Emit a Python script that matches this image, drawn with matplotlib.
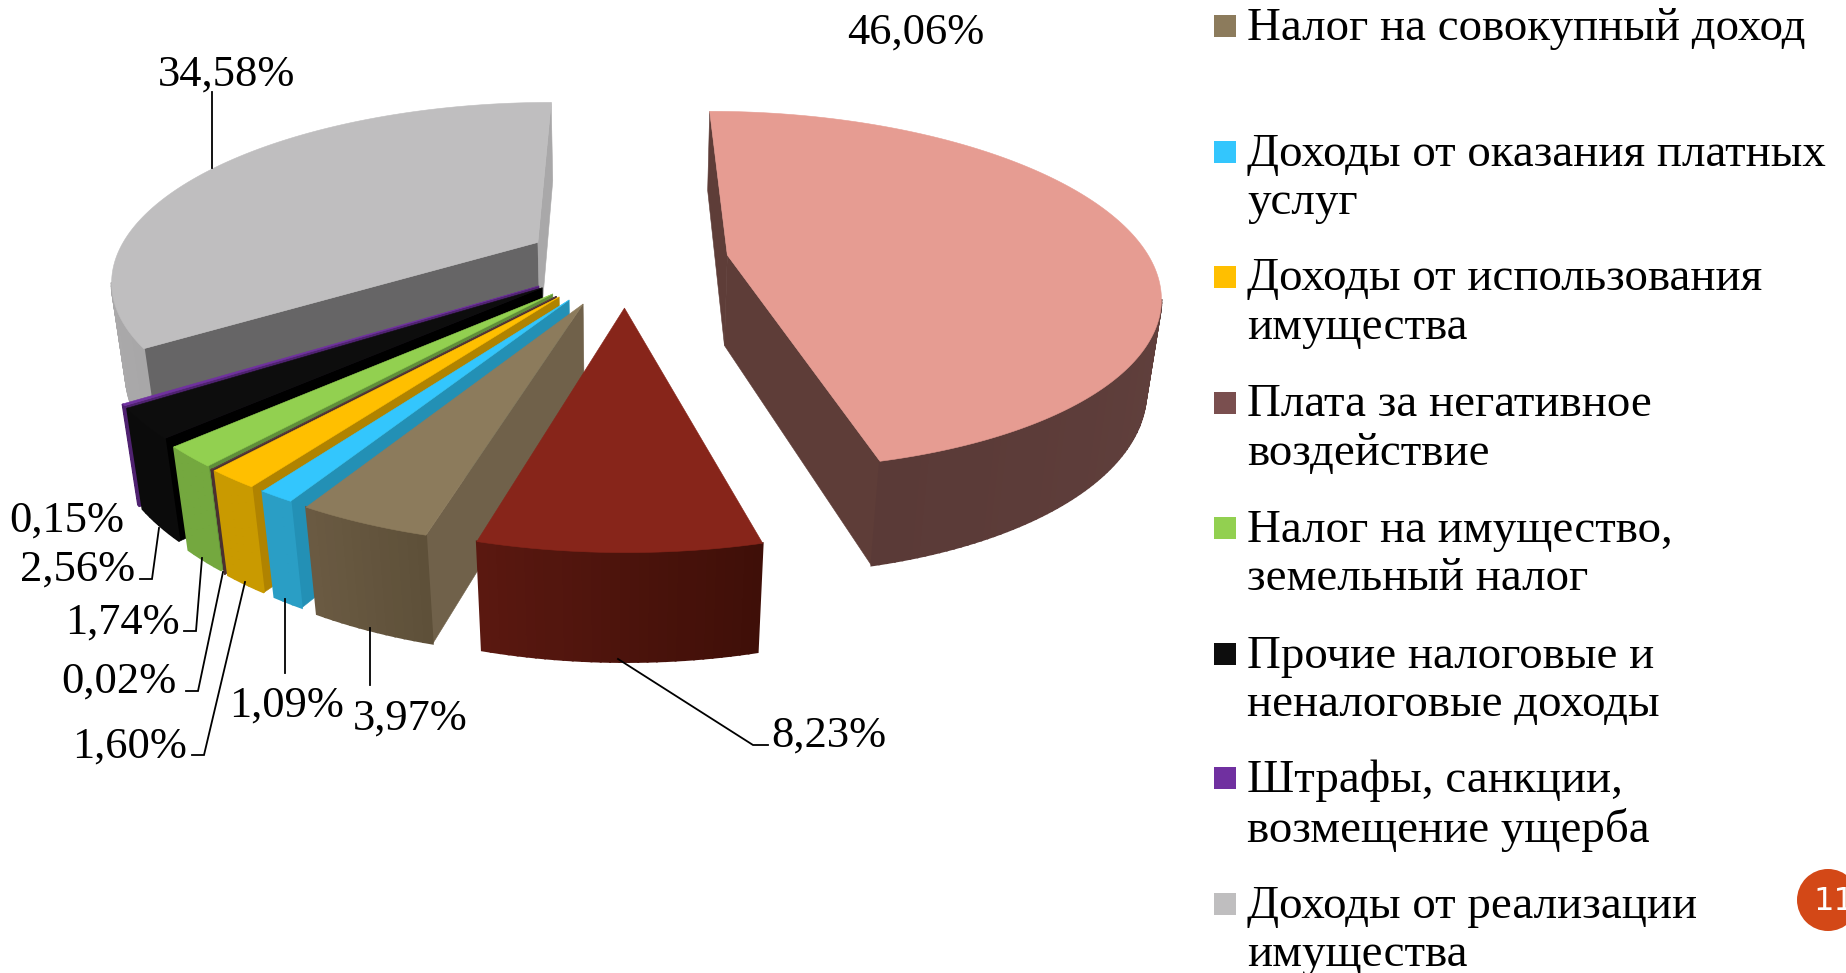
import numpy as np
import matplotlib
matplotlib.use("Agg")
import matplotlib.pyplot as plt
from matplotlib.patches import Polygon, Rectangle, Circle

# ---- data ----
slice_names = ["Налог на доходы", "Прочие доходы", "Налог на совокупный доход",
               "Доходы от оказания платных услуг", "Доходы от использования имущества",
               "Плата за негативное воздействие", "Налог на имущество, земельный налог",
               "Прочие налоговые и неналоговые доходы", "Штрафы, санкции, возмещение ущерба",
               "Доходы от реализации имущества"]
slice_values = [46.06, 8.23, 3.97, 1.09, 1.60, 0.02, 1.74, 2.56, 0.15, 34.58]
slice_labels = ["46,06%", "8,23%", "3,97%", "1,09%", "1,60%", "0,02%", "1,74%", "2,56%", "0,15%", "34,58%"]
legend_labels = ["Налог на совокупный доход", "Доходы от оказания платных\nуслуг",
                 "Доходы от использования\nимущества", "Плата за негативное\nвоздействие",
                 "Налог на имущество,\nземельный налог", "Прочие налоговые и\nненалоговые доходы",
                 "Штрафы, санкции,\nвозмещение ущерба", "Доходы от реализации\nимущества"]

# ---- styles ----
top_colors = ["#E69C92", "#87251A", "#8C7B5C", "#33C6FD", "#FFBF00", "#5B3D3D", "#92D050", "#0D0D0D", "#7030A0", "#BFBEBF"]
cut_colors = ["#5E3D38", "#52160E", "#70614A", "#2390B5", "#B08300", "#4A3030", "#5F8E3A", "#000000", "#4F2270", "#666566"]
end_cut_colors = ["#5E3D38", "#52160E", "#70614A", "#2390B5", "#B08300", "#4A3030", "#5F8E3A", "#000000", "#4F2270", "#A9A8A9"]
wall_a = ["#6C4B47", "#3F0F08", "#5E5039", "#2A9EC5", "#C99A00", "#4A3030", "#74A83F", "#0B0B0B", "#4F2270", "#A8A7A8"]
wall_b = ["#5A3A37", "#5A1810", "#6A5A42", "#2A9EC5", "#C99A00", "#4A3030", "#74A83F", "#0B0B0B", "#4F2270", "#B5B4B5"]
legend_colors = ["#8C7B5C", "#33C6FD", "#FFBF00", "#7A4F4F", "#92D050", "#0D0D0D", "#7030A0", "#BFBEBF"]

# per-slice explosion offsets in the pie plane (X right, Y away from viewer)
offsets = [(.255, .085), (.01, -.205), (-.083, -.184), (-.115, -.163), (-.138, -.147),
           (-.144, -.143), (-.153, -.131), (-.178, -.098), (-.186, -.088), (-.198, .16)]
draw_order = [9, 0, 8, 7, 6, 5, 4, 3, 2, 1]

# perspective projection
CX, CY, SX, SY, A, DW, H = 620, 270, 428, 178, 0.2, 0.028, 94


def project(X, Y, bottom=False):
    X, Y = np.asarray(X, float), np.asarray(Y, float)
    w = 1 + A * Y
    if bottom:
        w = w + DW
        return CX + SX * X / w, CY - SY * Y / w + H / w
    return CX + SX * X / w, CY - SY * Y / w


def lerp(c1, c2, t):
    a = np.array(matplotlib.colors.to_rgb(c1))
    b = np.array(matplotlib.colors.to_rgb(c2))
    return tuple(a + (b - a) * t)


fig = plt.figure(figsize=(18.46, 9.73), dpi=100, facecolor="white")
ax = fig.add_axes([0, 0, 1, 1])
ax.set_xlim(0, 1846)
ax.set_ylim(973, 0)
ax.axis("off")

edges = np.concatenate([[0], np.cumsum(slice_values)]) / sum(slice_values) * 2 * np.pi
CAM = np.array([0.0, -1 / A])


def quad(xa, ya, xb, yb, color, z, lw=0.4):
    """Vertical wall between plane points a and b."""
    ut1, vt1 = project(xa, ya)
    ut2, vt2 = project(xb, yb)
    ub2, vb2 = project(xb, yb, True)
    ub1, vb1 = project(xa, ya, True)
    ax.add_patch(Polygon([(ut1, vt1), (ut2, vt2), (ub2, vb2), (ub1, vb1)], closed=True,
                         facecolor=color, edgecolor=color, lw=lw, zorder=z))


for rank, i in enumerate(draw_order):
    t1, t2 = edges[i], edges[i + 1]
    ox, oy = offsets[i]
    z = 2 + rank
    ts = np.linspace(t1, t2, max(3, int((t2 - t1) * 60)))
    xs, ys = ox + np.sin(ts), oy + np.cos(ts)
    apex = np.array([ox, oy])
    to_cam = CAM - apex
    # cut faces
    if np.dot([-np.cos(t1), np.sin(t1)], to_cam) > 0:
        quad(ox, oy, xs[0], ys[0], cut_colors[i], z)
    if np.dot([np.cos(t2), -np.sin(t2)], to_cam) > 0:
        quad(ox, oy, xs[-1], ys[-1], end_cut_colors[i], z)
    # outer wall, in shaded strips
    for k in range(len(ts) - 1):
        tm = (ts[k] + ts[k + 1]) / 2
        pm = np.array([ox + np.sin(tm), oy + np.cos(tm)])
        if np.dot([np.sin(tm), np.cos(tm)], CAM - pm) > 0:
            quad(xs[k], ys[k], xs[k + 1], ys[k + 1],
                 lerp(wall_a[i], wall_b[i], k / max(1, len(ts) - 2)), z + 0.1, lw=1.4)
    # top face
    ut, vt = project(np.r_[ox, xs], np.r_[oy, ys])
    ax.add_patch(Polygon(np.c_[ut, vt], closed=True, facecolor=top_colors[i],
                         edgecolor=top_colors[i], lw=0.4, zorder=z + 0.2))

# ---- leader lines ----
leaders = [[(618, 659), (753, 745), (768, 745)],
           [(370, 628), (370, 685)],
           [(285, 599), (285, 673)],
           [(245, 582), (204, 755), (192, 755)],
           [(223, 572), (198, 691), (186, 691)],
           [(202, 558), (196, 631), (184, 631)],
           [(159, 528), (152, 579), (140, 579)],
           [(212, 92), (212, 168)]]
for pts in leaders:
    p = np.array(pts)
    ax.plot(p[:, 0], p[:, 1], color="black", lw=1.3, zorder=30, solid_joinstyle="miter")

# ---- percent labels ----
label_pos = [(916, 33), (829, 736), (410, 719), (287, 706), (130, 747),
             (119, 682), (122, 623), (78, 570), (67, 521), (227, 75)]
for s, (x, y) in zip(slice_labels, label_pos):
    ax.text(x, y, s, ha="center", va="center", fontsize=32,
            family="Liberation Serif", color="black", zorder=31)

# ---- legend ----
legend_rows = [26, 152, 277, 403, 528, 654, 778, 904]
for s, c, y in zip(legend_labels, legend_colors, legend_rows):
    ax.add_patch(Rectangle((1214, y - 11), 22, 22, facecolor=c, edgecolor="none", zorder=31))
    ax.text(1247, y - 19, s, ha="left", va="top", fontsize=33.8, linespacing=1.18,
            family="Liberation Serif", color="black", zorder=31)

# ---- page badge ----
ax.add_patch(Circle((1828, 900), 31, facecolor="#D34817", edgecolor="none", zorder=31))
ax.text(1813, 901, "11", ha="left", va="center", fontsize=23, color="white",
        family="DejaVu Sans", zorder=32)

fig.savefig("out.png", dpi=100, facecolor="white")
